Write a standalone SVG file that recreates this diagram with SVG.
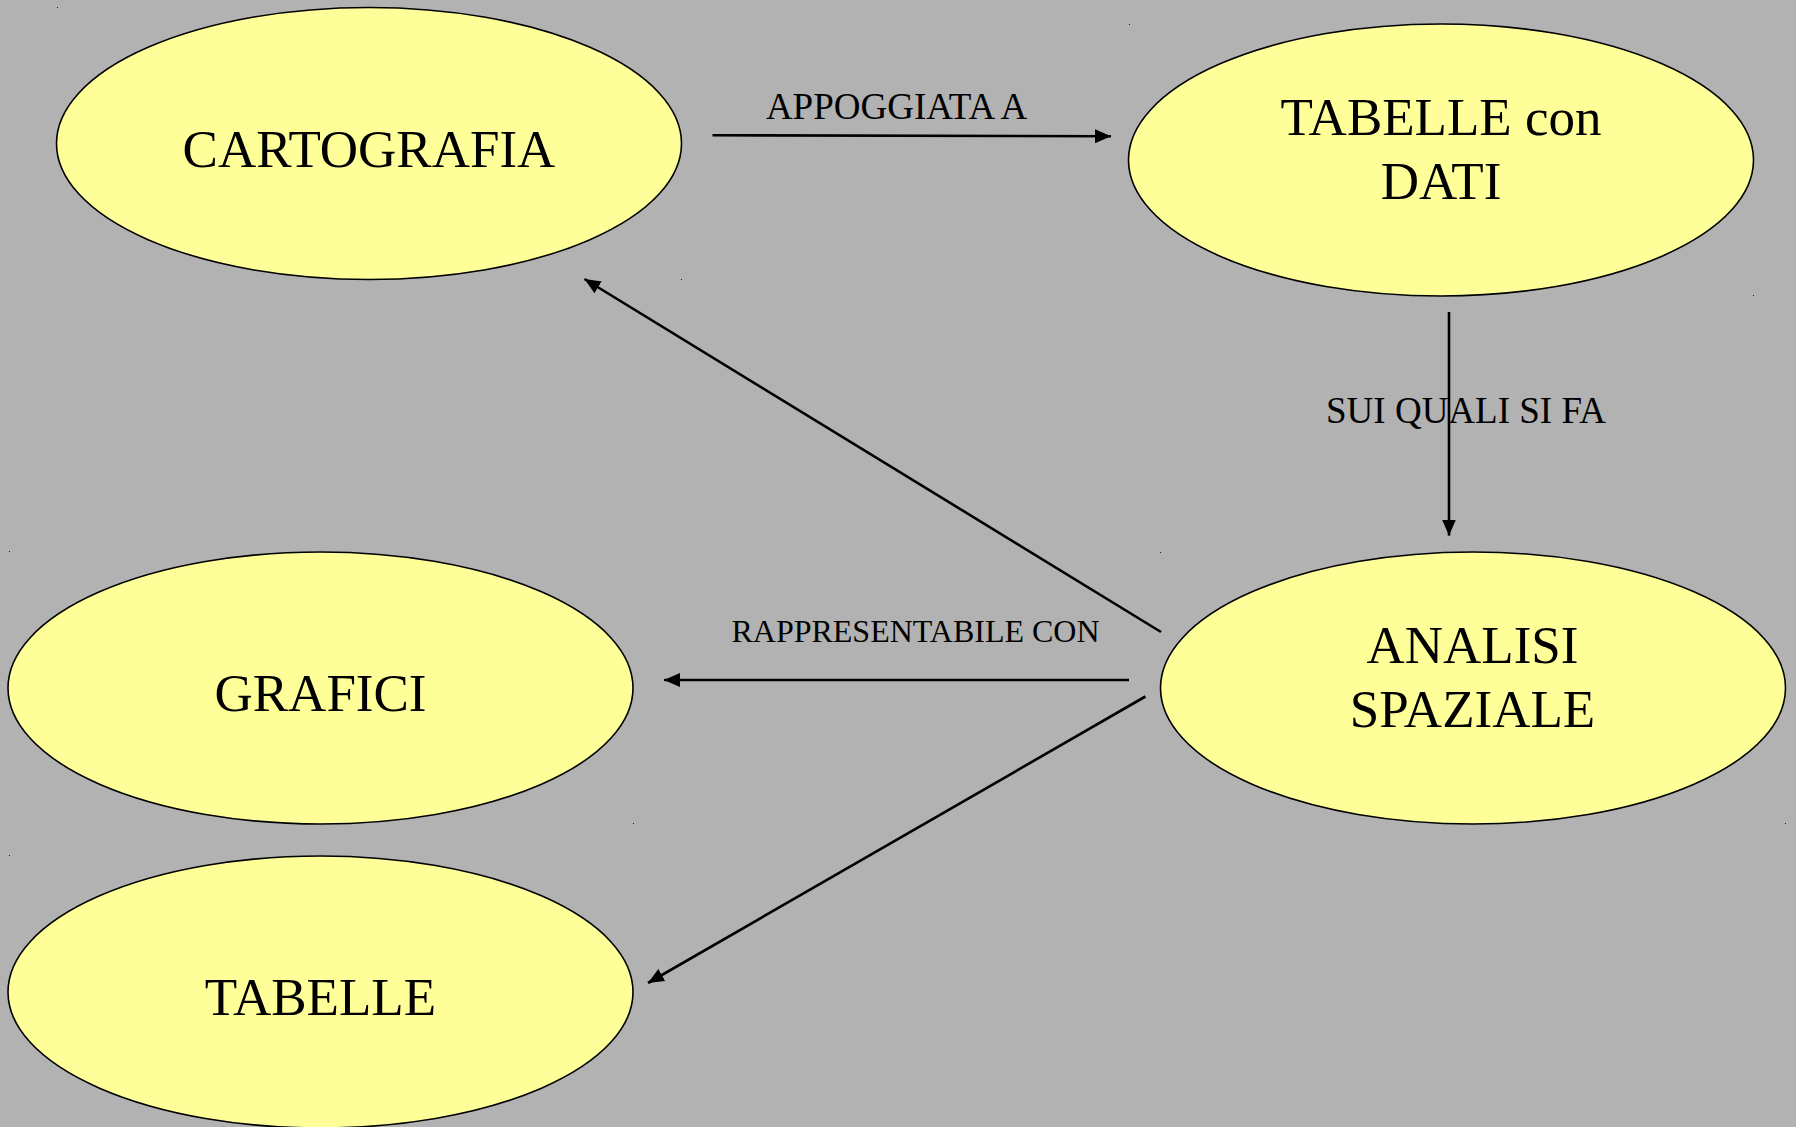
<svg xmlns="http://www.w3.org/2000/svg" width="1796" height="1127" viewBox="0 0 1796 1127">
  <style>
    .node ellipse { fill: #ffff99; stroke: #000000; stroke-width: 1.6; }
    .node text { font-family: "Liberation Serif", "Times New Roman", serif; font-size: 53px; fill: #000000; text-anchor: middle; }
    .edge { stroke: #000000; stroke-width: 2.6; fill: none; marker-end: url(#arrow); }
    .label { font-family: "Liberation Serif", "Times New Roman", serif; fill: #000000; text-anchor: middle; }
    .dot { fill: #222222; }
  </style>
  <defs>
    <marker id="arrow" viewBox="0 0 16 14" refX="16" refY="7" markerWidth="16" markerHeight="14" markerUnits="userSpaceOnUse" orient="auto">
      <path d="M0,0 L16,7 L0,14 Z" fill="#000000"/>
    </marker>
  </defs>
  <rect x="0" y="0" width="1796" height="1127" fill="#b2b2b2"/>

  <g id="nodes">
    <g id="cartografia" class="node">
      <ellipse cx="369" cy="143.5" rx="312.5" ry="136"/>
      <text x="369" y="167">CARTOGRAFIA</text>
    </g>
    <g id="tabelle-con-dati" class="node">
      <ellipse cx="1441" cy="160" rx="312.5" ry="136"/>
      <text x="1441" y="135">TABELLE con</text>
      <text x="1441" y="199">DATI</text>
    </g>
    <g id="grafici" class="node">
      <ellipse cx="320.5" cy="688" rx="312.5" ry="136"/>
      <text x="320.5" y="711">GRAFICI</text>
    </g>
    <g id="analisi-spaziale" class="node">
      <ellipse cx="1473" cy="688" rx="312.5" ry="136"/>
      <text x="1472.5" y="663">ANALISI</text>
      <text x="1472.5" y="727">SPAZIALE</text>
    </g>
    <g id="tabelle" class="node">
      <ellipse cx="320.5" cy="992" rx="312.5" ry="136"/>
      <text x="320.5" y="1015">TABELLE</text>
    </g>
  </g>

  <g id="connectors">
    <line class="edge" x1="712.5" y1="135.2" x2="1111" y2="136.3"/>
    <text class="label" x="896.5" y="119" font-size="37">APPOGGIATA A</text>
    <line class="edge" x1="1449" y1="312" x2="1449" y2="535.6"/>
    <text class="label" x="1466" y="423" font-size="37">SUI QUALI SI FA</text>
    <line class="edge" x1="1161" y1="632" x2="584.5" y2="279"/>
    <line class="edge" x1="1129" y1="680" x2="664" y2="680"/>
    <text class="label" x="915.5" y="642" font-size="32">RAPPRESENTABILE CON</text>
    <line class="edge" x1="1145.4" y1="696.5" x2="648" y2="983"/>
  </g>

  <g id="handles">
    <rect class="dot" x="57" y="7" width="1" height="1"/>
    <rect class="dot" x="681" y="279" width="1" height="1"/>
    <rect class="dot" x="1129" y="24" width="1" height="1"/>
    <rect class="dot" x="1753" y="295" width="1" height="1"/>
    <rect class="dot" x="9" y="551" width="1" height="1"/>
    <rect class="dot" x="633" y="823" width="1" height="1"/>
    <rect class="dot" x="1160" y="552" width="1" height="1"/>
    <rect class="dot" x="1785" y="823" width="1" height="1"/>
    <rect class="dot" x="9" y="855" width="1" height="1"/>
  </g>
</svg>
